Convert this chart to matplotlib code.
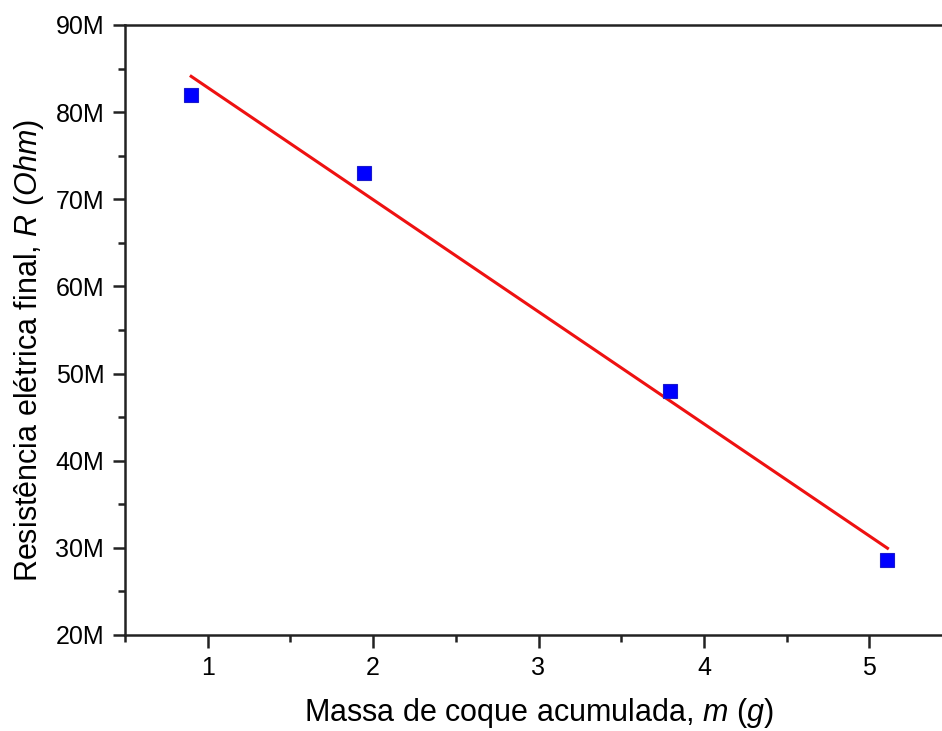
import numpy as np
import matplotlib.pyplot as plt
from matplotlib.ticker import FuncFormatter, MultipleLocator

# massa de coque (g) e resistência final (Ohm)
massa = [0.90, 1.945, 3.795, 5.11]
resistencia = [82.0e6, 73.0e6, 48.0e6, 28.6e6]

plt.rcParams["font.family"] = ["Liberation Sans", "DejaVu Sans"]
plt.rcParams["mathtext.fontset"] = "custom"
plt.rcParams["mathtext.it"] = "Liberation Sans:italic"
plt.rcParams["mathtext.rm"] = "Liberation Sans"


def main():
    fig = plt.figure(figsize=(9.42, 7.31), dpi=100)
    # a borda direita do gráfico fica cortada, como na figura original
    ax = fig.add_axes([125 / 942, 1 - 635 / 731, (952 - 125) / 942, (635 - 25) / 731])

    # ajuste linear
    coef = np.polyfit(massa, resistencia, 1)
    xs = np.array([min(massa), max(massa)])
    ax.plot(xs, np.polyval(coef, xs), color="#ee1111", lw=2.2, zorder=2)
    ax.plot(massa, resistencia, "s", color="#0000ff", mec="#1a1acc", mew=0.8,
            markersize=10, zorder=3)

    ax.set_xlim(0.5, 5.5)
    ax.set_ylim(20e6, 90e6)
    ax.xaxis.set_major_locator(MultipleLocator(1))
    ax.xaxis.set_minor_locator(MultipleLocator(0.5))
    ax.yaxis.set_major_locator(MultipleLocator(10e6))
    ax.yaxis.set_minor_locator(MultipleLocator(5e6))
    ax.yaxis.set_major_formatter(FuncFormatter(lambda v, p: f"{v / 1e6:.0f}M"))

    for s in ax.spines.values():
        s.set_linewidth(1.8)
        s.set_color("#222222")
    ax.tick_params(which="major", direction="out", length=9, width=1.8,
                   labelsize=18, pad=6, color="#222222")
    ax.tick_params(which="minor", direction="out", length=5, width=1.8,
                   color="#222222")
    ax.tick_params(top=False, right=False, which="both")

    ax.set_xlabel("Massa de coque acumulada, $m$ ($g$)", fontsize=22, labelpad=12)
    ax.set_ylabel("Resistência elétrica final, $R$ ($Ohm$)", fontsize=22, labelpad=7)
    ax.yaxis.label.set_y(0.467)

    fig.savefig("out.png", dpi=100)


if __name__ == "__main__":
    main()
